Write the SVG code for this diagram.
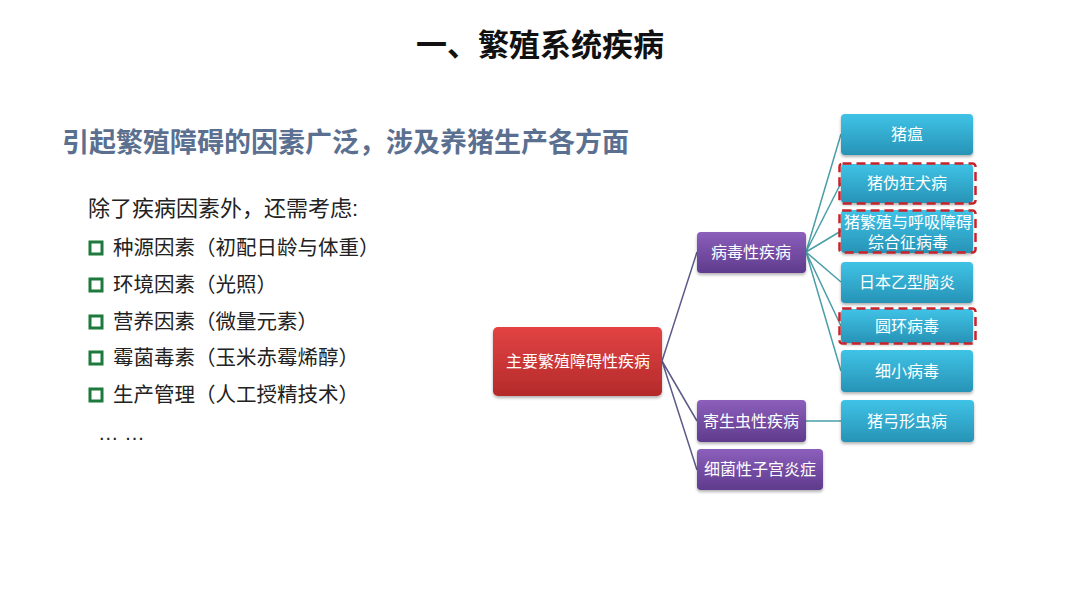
<svg xmlns="http://www.w3.org/2000/svg" width="1080" height="608" viewBox="0 0 1080 608">
<defs>
<linearGradient id="gBlue" x1="0" y1="0" x2="0" y2="1"><stop offset="0" stop-color="#3fc3e6"/><stop offset="1" stop-color="#2793b6"/></linearGradient>
<linearGradient id="gPurple" x1="0" y1="0" x2="0" y2="1"><stop offset="0" stop-color="#8c5fbc"/><stop offset="1" stop-color="#5e3b8c"/></linearGradient>
<linearGradient id="gRed" x1="0" y1="0" x2="0" y2="1"><stop offset="0" stop-color="#e34343"/><stop offset="1" stop-color="#b32a2a"/></linearGradient>
<filter id="sh" x="-10%" y="-10%" width="130%" height="140%"><feDropShadow dx="0" dy="2" stdDeviation="1.5" flood-color="#000" flood-opacity="0.3"/></filter>
</defs>
<style>
text{font-family:"Liberation Sans","Noto Sans CJK SC",sans-serif}
.title{font-size:31px;font-weight:bold;fill:#111}
.sub{font-size:27px;font-weight:bold;fill:#5b7090}
.item{font-size:20.5px;fill:#222}
.lead{font-size:22px;fill:#222}
.bx{font-size:16px;fill:#fff}
.blue{fill:url(#gBlue);filter:url(#sh)}
.purple{fill:url(#gPurple);filter:url(#sh)}
.red{fill:url(#gRed);filter:url(#sh)}
.dash{fill:none;stroke:#c8232b;stroke-width:2.5;stroke-dasharray:9 5}
.bul{fill:none;stroke:#1d7a3c;stroke-width:3}
.c1{stroke:#5c5a8a;stroke-width:1.5;fill:none}
.c2{stroke:#4a9ea8;stroke-width:1.5;fill:none}
</style>
<rect width="1080" height="608" fill="#fff"/>
<text class="title" x="540" y="56" text-anchor="middle">一、繁殖系统疾病</text>
<text class="sub" x="62" y="152">引起繁殖障碍的因素广泛，涉及养猪生产各方面</text>
<g id="list">
<text class="lead" x="88" y="216">除了疾病因素外，还需考虑:</text>
<rect class="bul" x="90" y="242" width="12" height="12"/><text class="item" x="113" y="255">种源因素（初配日龄与体重）</text>
<rect class="bul" x="90" y="279" width="12" height="12"/><text class="item" x="113" y="292">环境因素（光照）</text>
<rect class="bul" x="90" y="316" width="12" height="12"/><text class="item" x="113" y="329">营养因素（微量元素）</text>
<rect class="bul" x="90" y="352" width="12" height="12"/><text class="item" x="113" y="365">霉菌毒素（玉米赤霉烯醇）</text>
<rect class="bul" x="90" y="389" width="12" height="12"/><text class="item" x="113" y="402">生产管理（人工授精技术）</text>
<text class="item" x="98" y="440">… …</text>
</g>
<g id="connectors">
<path class="c1" d="M662 361 L697 252 M662 361 L697 421 M662 361 L697 470"/>
<path class="c2" d="M806 252 L841 134 M806 252 L841 183 M806 252 L841 231 M806 252 L841 282 M806 252 L841 326 M806 252 L841 371 M806 421 L841 421"/>
</g>
<g id="root"><rect class="red" x="493" y="327" width="169" height="69" rx="5"/><text class="bx" x="578" y="367" text-anchor="middle">主要繁殖障碍性疾病</text></g>
<g id="viral"><rect class="purple" x="697" y="232" width="109" height="41" rx="4"/><text class="bx" x="751" y="258" text-anchor="middle">病毒性疾病</text></g>
<g id="parasite"><rect class="purple" x="697" y="400" width="109" height="42" rx="4"/><text class="bx" x="751" y="427" text-anchor="middle">寄生虫性疾病</text></g>
<g id="bacteria"><rect class="purple" x="697" y="449" width="126" height="41" rx="4"/><text class="bx" x="760" y="475" text-anchor="middle">细菌性子宫炎症</text></g>
<g id="n1"><rect class="blue" x="841" y="114" width="132" height="41" rx="4"/><text class="bx" x="907" y="140" text-anchor="middle">猪瘟</text></g>
<g id="n2"><rect class="blue" x="841" y="164" width="132" height="39" rx="4"/><rect class="dash" x="839.5" y="163.5" width="136" height="40" rx="3"/><text class="bx" x="907" y="189" text-anchor="middle">猪伪狂犬病</text></g>
<g id="n3"><rect class="blue" x="841" y="210" width="132" height="43" rx="4"/><rect class="dash" x="839.5" y="210.5" width="136" height="42" rx="3"/><text class="bx" x="908" y="228" text-anchor="middle">猪繁殖与呼吸障碍</text><text class="bx" x="908" y="248" text-anchor="middle">综合征病毒</text></g>
<g id="n4"><rect class="blue" x="841" y="262" width="132" height="41" rx="4"/><text class="bx" x="907" y="288" text-anchor="middle">日本乙型脑炎</text></g>
<g id="n5"><rect class="blue" x="841" y="309" width="132" height="34" rx="4"/><rect class="dash" x="839.5" y="308.5" width="136" height="35" rx="3"/><text class="bx" x="907" y="332" text-anchor="middle">圆环病毒</text></g>
<g id="n6"><rect class="blue" x="841" y="350" width="132" height="42" rx="4"/><text class="bx" x="907" y="377" text-anchor="middle">细小病毒</text></g>
<g id="n7"><rect class="blue" x="841" y="400" width="133" height="42" rx="4"/><text class="bx" x="907" y="427" text-anchor="middle">猪弓形虫病</text></g>
</svg>
